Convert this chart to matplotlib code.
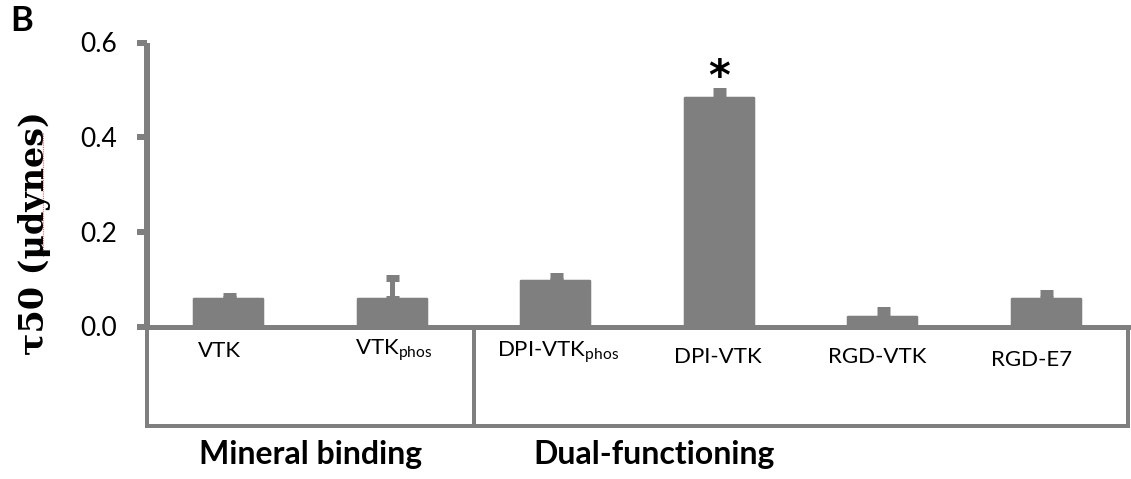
import matplotlib
matplotlib.use("Agg")
import matplotlib.pyplot as plt
from matplotlib.patches import Rectangle
from matplotlib.lines import Line2D
from matplotlib.transforms import blended_transform_factory, offset_copy
import numpy as np

plt.rcParams['font.family'] = ['Lato', 'DejaVu Sans']
plt.rcParams['mathtext.fontset'] = 'custom'
plt.rcParams['mathtext.rm'] = 'Lato'
plt.rcParams['mathtext.it'] = 'Lato:italic'

# Shear stress at 50% detachment for each peptide
categories = ['VTK', r'VTK$_{\mathrm{phos}}$', r'DPI-VTK$_{\mathrm{phos}}$',
              'DPI-VTK', 'RGD-VTK', 'RGD-E7']
tau50 = [0.059, 0.058, 0.097, 0.483, 0.021, 0.058]
tau50_err = [0.006, 0.044, 0.010, 0.015, 0.014, 0.012]
significant = [False, False, False, True, False, False]
groups = ['Mineral binding', 'Dual-functioning']
group_sizes = [2, 4]
yticks = [0.0, 0.2, 0.4, 0.6]

GRAY = '#7f7f7f'
W, H, DPI = 1131, 479, 100
px = 72.0 / DPI  # points per pixel

fig = plt.figure(figsize=(W / DPI, H / DPI), dpi=DPI)
ax = fig.add_axes([147 / W, 1 - 326.5 / H, 981 / W, 284 / H])

x = np.arange(len(categories))
ax.bar(x, tau50, width=0.42, color=GRAY, edgecolor=GRAY,
       linewidth=2.5 * px, joinstyle='round', zorder=2)
ax.errorbar(x, tau50, yerr=[np.zeros(len(x)), tau50_err], fmt='none',
            ecolor=GRAY, elinewidth=5 * px, capsize=6.5 * px,
            capthick=7 * px, zorder=3)

for xi, v, e, s in zip(x, tau50, tau50_err, significant):
    if s:
        ax.annotate('*', xy=(xi, v + e), xytext=(0, -6), textcoords='offset points',
                    ha='center', va='bottom', fontsize=30, fontweight='bold',
                    family='DejaVu Sans', color='black')

ax.set_xlim(-0.5, len(categories) - 0.5)
ax.set_ylim(0, 0.6)
ax.set_yticks(yticks)
ax.set_yticklabels([f'{t:.1f}' for t in yticks])
ax.tick_params(axis='y', direction='out', length=10 * px, width=6 * px,
               color=GRAY, pad=20 * px, labelsize=19, labelcolor='black')
ax.set_xticks([])
for side in ('top', 'right'):
    ax.spines[side].set_visible(False)
ax.spines['left'].set_color(GRAY)
ax.spines['left'].set_linewidth(6 * px)
ax.spines['bottom'].set_color(GRAY)
ax.spines['bottom'].set_linewidth(5 * px)
ax.spines['left'].set_capstyle('butt')

# Category labels inside the group boxes
trans = blended_transform_factory(ax.transData, ax.transAxes)
label_dx = [-9, 1, 2, -1, -6, -15]
label_y = [-0.085, -0.085, -0.092, -0.107, -0.107, -0.118]
for xi, lab, dx, ly in zip(x, categories, label_dx, label_y):
    t = offset_copy(trans, fig=fig, x=dx * px, y=0, units='points')
    ax.text(xi, ly, lab, transform=t, ha='center', va='center',
            fontsize=16, color='black')

# Group boxes and group titles
title_x = [0.5, 2.6]
start = -0.5
box_bottom = -0.35
for name, n, tx in zip(groups, group_sizes, title_x):
    ax.add_patch(Rectangle((start, box_bottom), n, -box_bottom, transform=trans,
                           fill=False, edgecolor=GRAY, linewidth=4 * px,
                           clip_on=False, zorder=1))
    ax.text(tx, -0.45, name, transform=trans, ha='center',
            va='center', fontsize=23, fontweight='bold', color='black')
    start += n

fig.text(35 / W, 1 - 233.5 / H, 'τ50 (μdynes)', rotation=90, ha='center',
         va='center', fontsize=24, fontweight='bold', family='DejaVu Serif')
fig.add_artist(Line2D([43 / W, 43 / W], [1 - 133 / H, 1 - 257 / H],
                      color='#e36c6c', linewidth=0.8, linestyle=(0, (1, 1))))
fig.text(10 / W, 1 - 21 / H, 'B', ha='left', va='center', fontsize=25,
         fontweight='bold')

fig.savefig('out.png', dpi=DPI)
